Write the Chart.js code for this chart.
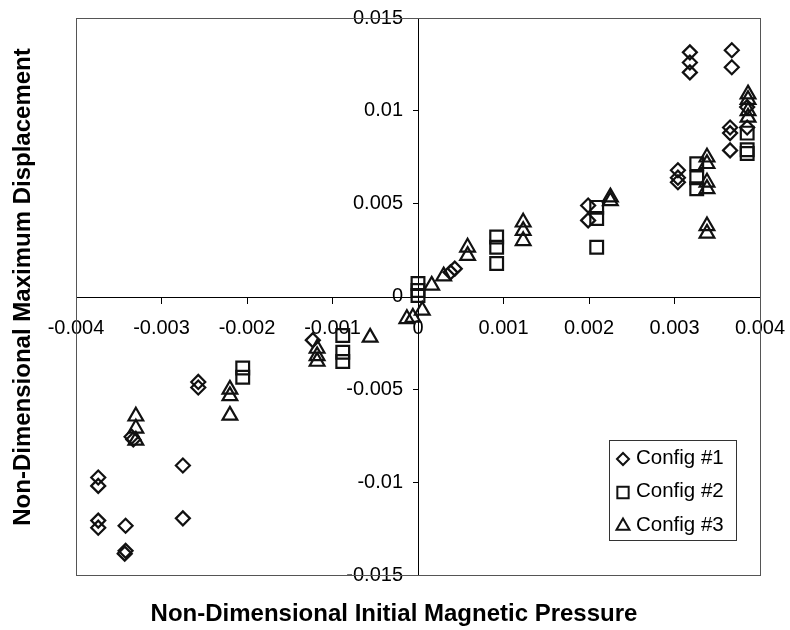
<!DOCTYPE html>
<html>
<head>
<meta charset="utf-8">
<script src="https://cdn.jsdelivr.net/npm/chart.js@4/dist/chart.umd.min.js"></script>
<style>
  html, body { margin: 0; padding: 0; background: #ffffff; }
  #wrap { width: 790px; height: 630px; }
</style>
</head>
<body>
<div id="wrap"><canvas id="c" width="790" height="630"></canvas></div>
<script>
// Values are in units of 1e-3 (scaled on use)
const config1X = [3.18, 3.18, 3.18, 3.67, 3.67, 3.65, 3.65, 3.65, 3.85, 3.85, 3.04, 3.04, 3.04, 1.99, 1.99, 0.43, 0.38,
                  -3.74, -3.74, -3.74, -3.74, -3.42, -3.42, -3.43, -2.75, -2.75, -2.57, -2.57, -3.35, -3.33, -1.23];
const config1Y = [13.15, 12.6, 12.07, 13.26, 12.35, 9.1, 8.8, 7.87, 10.2, 9.1, 6.8, 6.4, 6.15, 4.9, 4.1, 1.5, 1.3,
                  -9.75, -10.2, -12.07, -12.45, -12.35, -13.7, -13.85, -9.1, -11.95, -4.6, -4.9, -7.55, -7.7, -2.35];

const config2X = [0.0, 0.0, 0.0, 0.92, 0.92, 0.92, 2.09, 2.09, 2.09, 3.26, 3.26, 3.26, 3.85, 3.85, 3.85,
                  -2.05, -2.05, -0.88, -0.88, -0.88];
const config2Y = [0.7, 0.32, 0.05, 3.2, 2.65, 1.78, 4.8, 4.2, 2.65, 7.15, 6.4, 5.8, 8.8, 7.9, 7.7,
                  -3.85, -4.35, -2.1, -3.0, -3.5];

const config3X = [0.16, 0.3, 0.58, 0.58, 1.23, 1.23, 1.23, 2.25, 2.25, 3.38, 3.38, 3.38, 3.38, 3.38, 3.38,
                  3.86, 3.86, 3.86, 3.86, -0.13, -0.06, 0.05, -3.3, -3.3, -3.3, -2.2, -2.2, -2.2,
                  -1.18, -1.18, -1.18, -0.56];
const config3Y = [0.6, 1.1, 2.65, 2.2, 4.0, 3.55, 3.0, 5.35, 5.15, 7.5, 7.15, 6.15, 5.8, 3.8, 3.4,
                  10.9, 10.6, 10.0, 9.65, -1.2, -1.13, -0.75, -6.45, -7.1, -7.75, -5.0, -5.35, -6.4,
                  -2.8, -3.2, -3.5, -2.2];

const seriesNames = ['Config #1', 'Config #2', 'Config #3'];
const xTickLabels = ['-0.004', '-0.003', '-0.002', '-0.001', '0', '0.001', '0.002', '0.003', '0.004'];
const yTickLabels = ['-0.015', '-0.01', '-0.005', '0', '0.005', '0.01', '0.015'];
const xTitle = 'Non-Dimensional Initial Magnetic Pressure';
const yTitle = 'Non-Dimensional Maximum Displacement';

const toPoints = (xs, ys) => xs.map((x, i) => ({ x: x / 1000, y: ys[i] / 1000 }));

Chart.defaults.font.family = 'Arial, "Liberation Sans", sans-serif';
Chart.defaults.color = '#000';

const markerStyles = [
  { pointStyle: 'rectRot', radius: 7, legendRadius: 6 },
  { pointStyle: 'rect', radius: 9, legendRadius: 8 },
  { pointStyle: 'triangle', radius: 8.5, legendRadius: 7.5 }
];

const datasets = [
  toPoints(config1X, config1Y),
  toPoints(config2X, config2Y),
  toPoints(config3X, config3Y)
].map((pts, i) => ({
  label: seriesNames[i],
  data: pts,
  pointStyle: markerStyles[i].pointStyle,
  pointRadius: markerStyles[i].radius,
  pointHoverRadius: markerStyles[i].radius,
  pointBorderColor: '#111',
  pointBackgroundColor: 'rgba(0,0,0,0)',
  pointBorderWidth: 2.2,
  showLine: false
}));

// keep tick-label overhang from shrinking the plot area
const noOverhang = (scale) => {
  scale.paddingLeft = 0; scale.paddingRight = 0;
  scale.paddingTop = 0; scale.paddingBottom = 0;
};

// Frame around the plot, framed legend and the two axis titles
const decorations = {
  id: 'decorations',
  beforeDatasetsDraw(chart) {
    const { ctx, chartArea: a } = chart;
    ctx.save();
    ctx.strokeStyle = '#555';
    ctx.lineWidth = 1;
    ctx.strokeRect(a.left + 0.5, a.top + 0.5, a.right - a.left, a.bottom - a.top);
    ctx.restore();
  },
  afterDraw(chart) {
    const { ctx, chartArea: a } = chart;
    ctx.save();
    // legend box
    const bx = a.right - 151, by = a.bottom - 135, bw = 127, bh = 100;
    ctx.fillStyle = '#fff';
    ctx.fillRect(bx, by, bw, bh);
    ctx.strokeStyle = '#333';
    ctx.lineWidth = 1;
    ctx.strokeRect(bx + 0.5, by + 0.5, bw, bh);
    ctx.font = '20.5px Arial, "Liberation Sans", sans-serif';
    ctx.textBaseline = 'middle';
    ctx.textAlign = 'left';
    chart.data.datasets.forEach((ds, i) => {
      const cy = by + 18 + i * 33.5;
      ctx.strokeStyle = '#111';
      ctx.fillStyle = 'rgba(0,0,0,0)';
      ctx.lineWidth = 2;
      Chart.helpers.drawPoint(ctx, { pointStyle: ds.pointStyle, radius: markerStyles[i].legendRadius, borderWidth: 2 }, bx + 14, cy + 1);
      ctx.fillStyle = '#000';
      ctx.fillText(ds.label, bx + 27, cy);
    });
    // axis titles
    ctx.fillStyle = '#000';
    ctx.font = 'bold 24px Arial, "Liberation Sans", sans-serif';
    ctx.textAlign = 'center';
    ctx.textBaseline = 'middle';
    ctx.fillText(xTitle, 394, 614);
    ctx.translate(23, 287);
    ctx.rotate(-Math.PI / 2);
    ctx.fillText(yTitle, 0, 0);
    ctx.restore();
  }
};

new Chart(document.getElementById('c'), {
  type: 'scatter',
  data: { datasets },
  options: {
    responsive: false,
    animation: false,
    layout: { padding: { left: 76, right: 30, top: 18, bottom: 55 } },
    plugins: { legend: { display: false }, tooltip: { enabled: false } },
    scales: {
      x: {
        type: 'linear',
        position: 'center',
        min: -0.004,
        max: 0.004,
        afterFit: noOverhang,
        ticks: {
          stepSize: 0.001,
          padding: 14,
          font: { size: 20 },
          color: '#000',
          maxRotation: 0,
          autoSkip: false,
          callback: (v, i) => xTickLabels[i]
        },
        grid: { display: true, drawOnChartArea: false, drawTicks: true, tickLength: 6, tickColor: '#000' },
        border: { display: true, color: '#000', width: 1 }
      },
      y: {
        type: 'linear',
        position: 'center',
        min: -0.015,
        max: 0.015,
        afterFit: noOverhang,
        ticks: {
          stepSize: 0.005,
          padding: 10,
          font: { size: 20 },
          color: '#000',
          autoSkip: false,
          callback: (v, i) => yTickLabels[i]
        },
        grid: { display: true, drawOnChartArea: false, drawTicks: true, tickLength: 5, tickColor: '#000' },
        border: { display: true, color: '#000', width: 1 }
      }
    }
  },
  plugins: [decorations]
});
</script>
</body>
</html>
